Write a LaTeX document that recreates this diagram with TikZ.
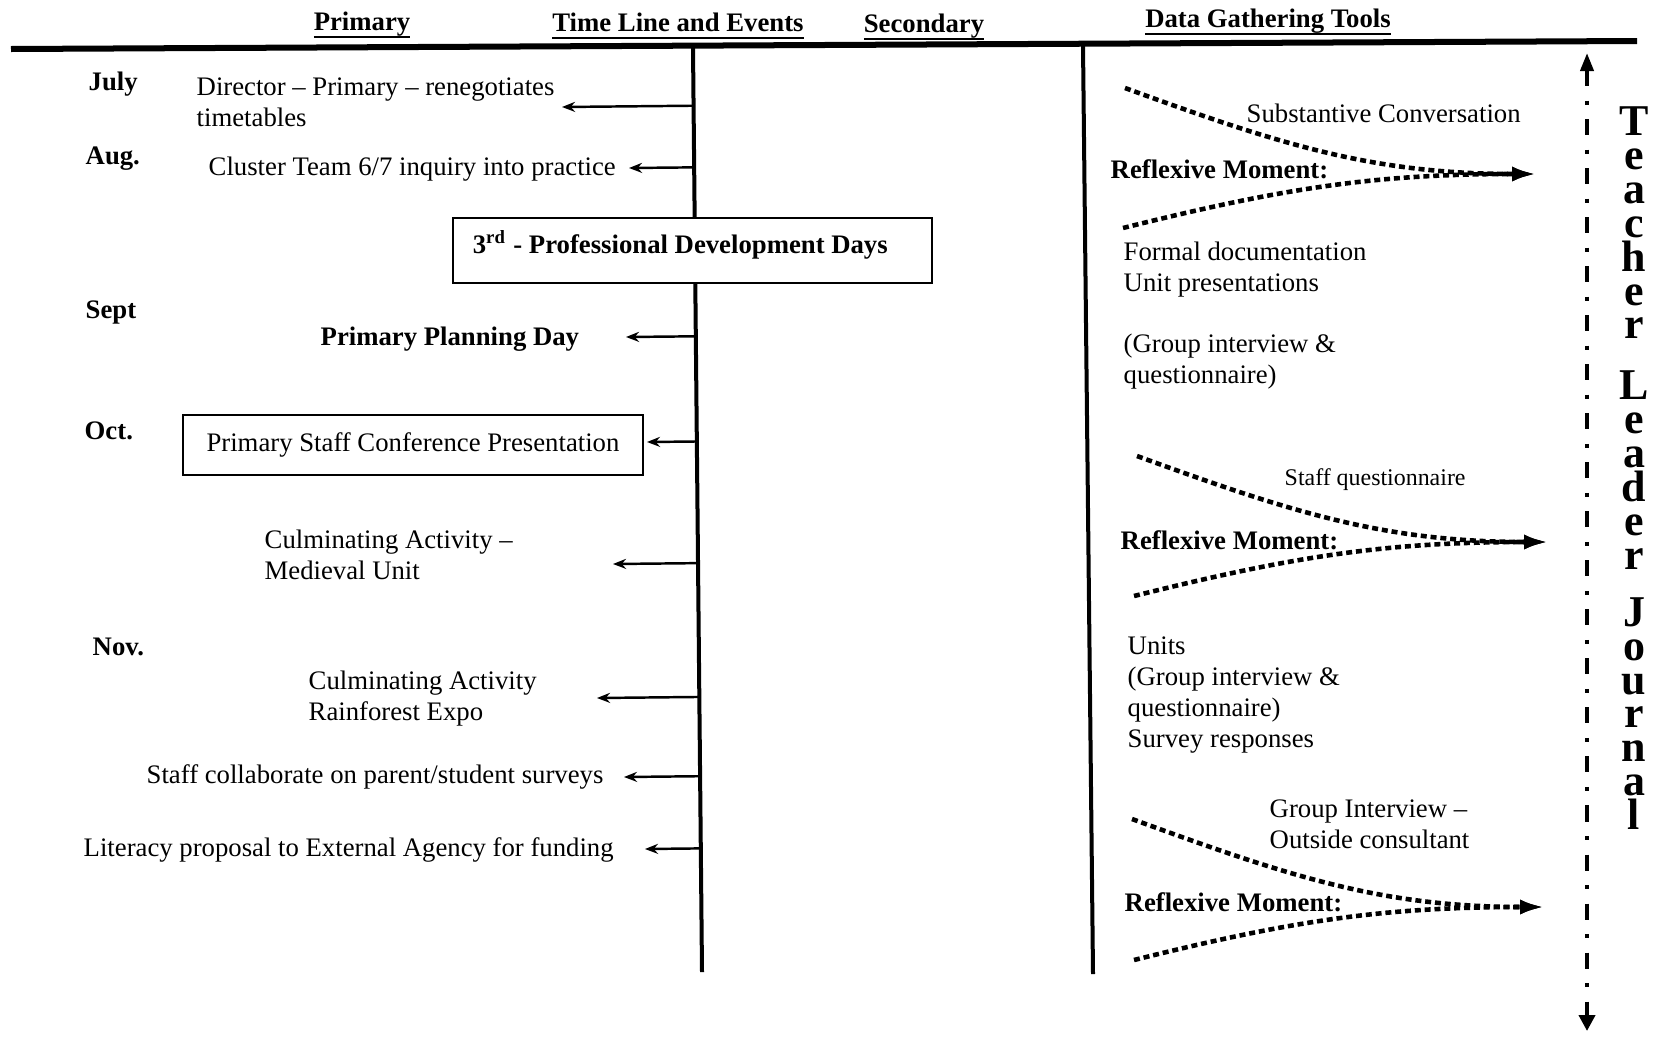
\documentclass[tikz,border=0pt]{standalone}
\usepackage{fontspec}
\setmainfont{Liberation Serif}
\usetikzlibrary{arrows.meta, calc}

\newcommand{\encab}[1]{\setbox0\hbox{#1\vphantom{y}}%
    \rlap{\rule[-\dimexpr\dp0+0.6pt\relax]{\wd0}{0.75pt}}\box0}

\begin{document}
\begin{tikzpicture}[
    x=0.01cm, y=-0.01cm,
    every node/.style={inner sep=0pt, font=\fontsize{7.6}{8.8}\selectfont},
    texto/.style={anchor=west, align=left},
    negrita/.style={font=\fontsize{7.6}{8.8}\selectfont\bfseries},
    caja/.style={draw, line width=0.6pt, fill=white},
    evarrow/.style={line width=0.7pt, -{Stealth[length=0.13cm, width=0.1cm]}},
    reflejo/.style={line width=1.3pt, dash pattern=on 1.7pt off 1.1pt,
        -{Latex[length=0.24cm, width=0.15cm]}}
]
    \useasboundingbox (0,0) rectangle (1664,1039);

    % Encabezados de las columnas
    \node[negrita] (hprim) at (362,25) {\encab{Primary}};
    \node[negrita] (htime) at (678,26) {\encab{Time Line and Events}};
    \node[negrita] (hsec) at (924,27) {\encab{Secondary}};
    \node[negrita] (hdata) at (1268,22) {\encab{Data Gathering Tools}};

    % Linea horizontal y lineas verticales
    \coordinate (hl) at (11,49);
    \coordinate (hr) at (1637,41);
    \draw[line width=0.06cm] (hl) -- (hr);
    \coordinate (tltop) at (693,48);
    \coordinate (tlbot) at (702,972);
    \draw[line width=0.04cm] (tltop) -- (tlbot);
    \coordinate (dvtop) at (1083,46);
    \coordinate (dvbot) at (1093,974);
    \draw[line width=0.04cm] (dvtop) -- (dvbot);

    % Meses
    \node[texto, negrita] (jul) at (88,84) {July};
    \node[texto, negrita] (aug) at (85,159) {Aug.};
    \node[texto, negrita] (sep) at (85,312) {Sept};
    \node[texto, negrita] (oct) at (84,431) {Oct.};
    \node[texto, negrita] (nov) at (92,647) {Nov.};

    % Eventos de la linea de tiempo
    \node[texto] (director) at (196,102) {Director – Primary – renegotiates\\timetables};
    \node[texto] (cluster) at (208,169) {Cluster Team 6/7 inquiry into practice};
    \node[caja, negrita, minimum width=4.79cm, minimum height=0.65cm,
        text width=4.39cm, align=flush left, text height=0.2cm, text depth=0.15cm]
        (pdd) at (692.5,250.5) {3\textsuperscript{rd} - Professional Development Days};
    \node[texto, negrita] (planning) at (320,339) {Primary Planning Day};
    \node[caja, minimum width=4.60cm, minimum height=0.60cm]
        (conference) at (413,445) {Primary Staff Conference Presentation};
    \node[texto] (medieval) at (264,555) {Culminating Activity –\\Medieval Unit};
    \node[texto] (rainforest) at (308,699) {Culminating Activity\\Rainforest Expo};
    \node[texto] (surveys) at (146,777) {Staff collaborate on parent/student surveys};
    \node[texto] (literacy) at (83,850) {Literacy proposal to External Agency for funding};

    % Flechas desde la linea de tiempo
    \coordinate (a1) at (562,107);
    \coordinate (a2) at (629,168);
    \coordinate (a4) at (626,337);
    \coordinate (a5) at (647,442);
    \coordinate (a6) at (613,564);
    \coordinate (a7) at (597,698);
    \coordinate (a8) at (624,777);
    \coordinate (a9) at (645,849);
    \draw[evarrow] ($(tltop)!(a1)!(tlbot)$) -- (a1);
    \draw[evarrow] ($(tltop)!(a2)!(tlbot)$) -- (a2);
    \draw[evarrow] ($(tltop)!(a4)!(tlbot)$) -- (a4);
    \draw[evarrow] ($(tltop)!(a5)!(tlbot)$) -- (a5);
    \draw[evarrow] ($(tltop)!(a6)!(tlbot)$) -- (a6);
    \draw[evarrow] ($(tltop)!(a7)!(tlbot)$) -- (a7);
    \draw[evarrow] ($(tltop)!(a8)!(tlbot)$) -- (a8);
    \draw[evarrow] ($(tltop)!(a9)!(tlbot)$) -- (a9);

    % Herramientas de recoleccion de datos
    \node[texto] (subst) at (1246,113) {Substantive Conversation};
    \node[texto, negrita] (rm1) at (1110,169) {Reflexive Moment:};
    \node[texto] (formal) at (1123,270) {Formal documentation\\Unit presentations};
    \node[texto] (grupo1) at (1123,362) {(Group interview \&\\questionnaire)};
    \node[texto, font=\fontsize{6.8}{8}\selectfont] (staffq) at (1284,480) {Staff questionnaire};
    \node[texto, negrita] (rm2) at (1120,540) {Reflexive Moment:};
    \node[texto] (units) at (1127,695) {Units\\(Group interview \&\\questionnaire)\\Survey responses};
    \node[texto] (outside) at (1269,824) {Group Interview –\\Outside consultant};
    \node[texto, negrita] (rm3) at (1124,902) {Reflexive Moment:};

    % Momentos reflexivos (flechas punteadas)
    \coordinate (r1a) at (1125,88);
    \coordinate (r1b) at (1123,228);
    \coordinate (r1) at (1536,174);
    \draw[reflejo] (r1a) to[out=-20, in=180] (r1);
    \draw[reflejo] (r1b) to[out=14, in=180] (r1);
    \coordinate (r2a) at (1137,456);
    \coordinate (r2b) at (1134,596);
    \coordinate (r2) at (1548,542);
    \draw[reflejo] (r2a) to[out=-20, in=180] (r2);
    \draw[reflejo] (r2b) to[out=14, in=180] (r2);
    \coordinate (r3a) at (1132,819);
    \coordinate (r3b) at (1134,960);
    \coordinate (r3) at (1544,907);
    \draw[reflejo] (r3a) to[out=-20, in=180] (r3);
    \draw[reflejo] (r3b) to[out=14, in=180] (r3);

    % Diario del lider docente
    \coordinate (jtop) at (1587,53);
    \coordinate (jbot) at (1587,1031);
    \draw[line width=1.1pt, dash pattern=on 0.16cm off 0.145cm on 0.04cm off 0.145cm,
        {Triangle[length=0.18cm, width=0.13cm]}-{Triangle[length=0.16cm, width=0.16cm]}]
        (jtop) -- (jbot);
    \node[align=center, anchor=north,
        font={\fontsize{12.5}{9.64}\selectfont\bfseries\lineskiplimit=-10pt}]
        (journal) at (1634,106)
        {T\\e\\a\\c\\h\\e\\r\\[0.27cm]L\\e\\a\\d\\e\\r\\[0.23cm]J\\o\\u\\r\\n\\a\\l};
\end{tikzpicture}
\end{document}
